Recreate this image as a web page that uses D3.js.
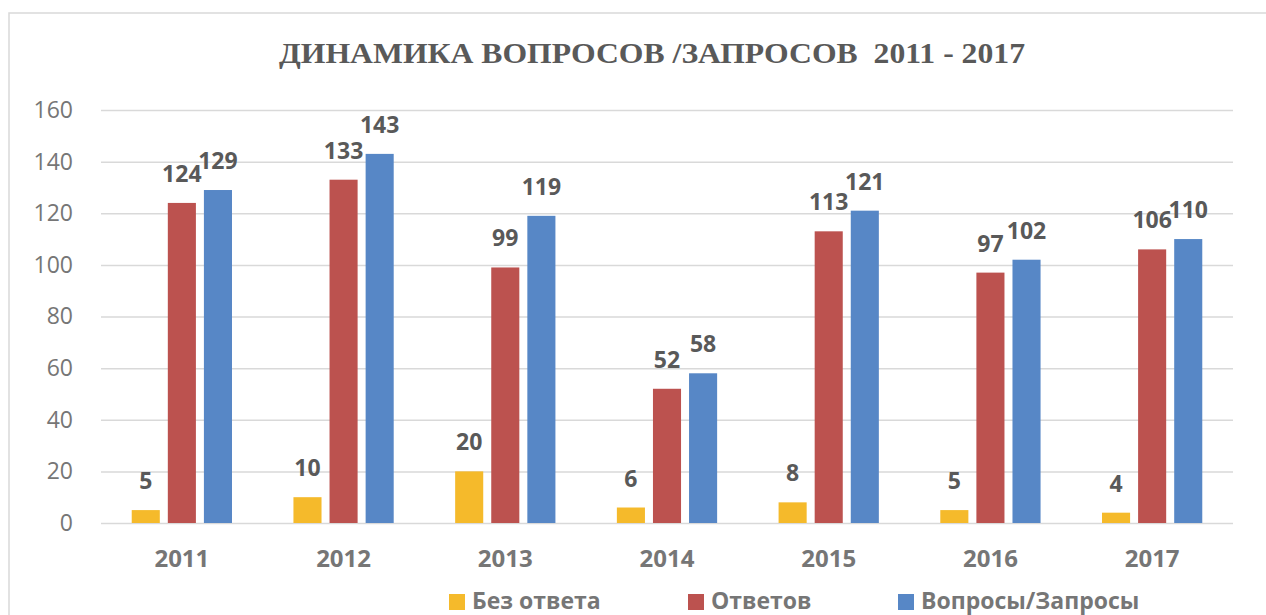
<!DOCTYPE html>
<html>
<head>
<meta charset="utf-8">
<script src="https://cdn.jsdelivr.net/npm/d3@7"></script>
<style>
  body { margin: 0; background: #fff; }
  svg { display: block; }
</style>
</head>
<body>
<div id="chart"></div>
<script>
const YEARS = ['2011', '2012', '2013', '2014', '2015', '2016', '2017'];
const SERIES = ['Без ответа', 'Ответов', 'Вопросы/Запросы'];
const NO_ANSWER = [5, 10, 20, 6, 8, 5, 4];
const ANSWERS = [124, 133, 99, 52, 113, 97, 106];
const REQUESTS = [129, 143, 119, 58, 121, 102, 110];
const Y_TICKS = [0, 20, 40, 60, 80, 100, 120, 140, 160];
const TITLE = 'ДИНАМИКА ВОПРОСОВ /ЗАПРОСОВ  2011 - 2017';

const WIDTH = 1266;
const HEIGHT = 615;
const PLOT = { left: 101, right: 1233, top: 110, bottom: 523 };
const COLORS = ['#F5BA2B', '#BC524F', '#5787C6'];
const TEXT_DARK = '#595959';
const TEXT_LIGHT = '#767676';
const SANS = '"Open Sans", "DejaVu Sans", sans-serif';

const values = [NO_ANSWER, ANSWERS, REQUESTS];
const data = YEARS.map((year, i) => ({
	year,
	items: SERIES.map((s, j) => ({ series: s, idx: j, value: values[j][i] }))
}));

const svg = d3.select('#chart')
	.append('svg')
		.attr('width', WIDTH)
		.attr('height', HEIGHT);

// chart frame
svg.append('rect')
	.attr('x', 9)
	.attr('y', 13)
	.attr('width', 1300)
	.attr('height', 700)
	.attr('fill', 'none')
	.attr('stroke', '#D9D9D9')
	.attr('stroke-width', 1.5);

svg.append('text')
	.attr('x', 279)
	.attr('y', 63)
	.attr('textLength', 746)
	.attr('lengthAdjust', 'spacingAndGlyphs')
	.attr('fill', TEXT_DARK)
	.style('font-family', '"Liberation Serif", "Times New Roman", serif')
	.style('font-weight', 'bold')
	.style('font-size', '29px')
	.style('white-space', 'pre')
	.text(TITLE);

const y = d3.scaleLinear()
	.domain([0, 160])
	.range([PLOT.bottom, PLOT.top]);

const x0 = d3.scaleBand()
	.domain(YEARS)
	.range([PLOT.left, PLOT.right])
	.paddingInner(0.38)
	.paddingOuter(0.19);

const x1 = d3.scaleBand()
	.domain(SERIES)
	.range([0, x0.bandwidth()])
	.paddingInner(0.222)
	.paddingOuter(0);

// gridlines + y labels
const yAxis = svg.append('g')
	.attr('transform', `translate(${PLOT.left}, 0)`)
	.call(d3.axisLeft(y)
		.tickValues(Y_TICKS)
		.tickSize(-(PLOT.right - PLOT.left))
		.tickPadding(28));
yAxis.select('.domain').remove();
yAxis.selectAll('.tick line')
	.attr('stroke', '#D9D9D9')
	.attr('stroke-width', 1.5);
yAxis.selectAll('.tick text')
	.attr('fill', TEXT_LIGHT)
	.style('font-family', SANS)
	.style('font-size', '23px');

// x labels
const xAxis = svg.append('g')
	.attr('transform', `translate(0, ${PLOT.bottom})`)
	.call(d3.axisBottom(x0).tickSize(0).tickPadding(24));
xAxis.select('.domain').remove();
xAxis.selectAll('.tick text')
	.attr('fill', TEXT_LIGHT)
	.attr('dy', '0.85em')
	.style('font-family', SANS)
	.style('font-weight', 'bold')
	.style('font-size', '24px');

const groups = svg.append('g')
	.selectAll('g')
	.data(data)
	.enter()
	.append('g')
		.attr('transform', d => `translate(${x0(d.year)}, 0)`);

groups.selectAll('rect')
	.data(d => d.items)
	.enter()
	.append('rect')
		.attr('x', d => x1(d.series))
		.attr('y', d => y(d.value))
		.attr('width', x1.bandwidth())
		.attr('height', d => y(0) - y(d.value))
		.attr('fill', d => COLORS[d.idx]);

groups.selectAll('text')
	.data(d => d.items)
	.enter()
	.append('text')
		.attr('x', d => x1(d.series) + x1.bandwidth() / 2)
		.attr('y', d => y(d.value) - 21)
		.attr('text-anchor', 'middle')
		.attr('fill', TEXT_DARK)
		.style('font-family', SANS)
		.style('font-weight', 'bold')
		.style('font-size', '23px')
		.text(d => d.value);

// legend
const LEGEND_X = [449, 688, 898];
const legend = svg.append('g')
	.selectAll('g')
	.data(SERIES)
	.enter()
	.append('g')
		.attr('transform', (d, i) => `translate(${LEGEND_X[i]}, 594)`);
legend.append('rect')
	.attr('width', 16)
	.attr('height', 16)
	.attr('fill', (d, i) => COLORS[i]);
legend.append('text')
	.attr('x', 23)
	.attr('y', 15)
	.attr('fill', TEXT_LIGHT)
	.style('font-family', SANS)
	.style('font-weight', 'bold')
	.style('font-size', '23px')
	.text(d => d);
</script>
</body>
</html>
